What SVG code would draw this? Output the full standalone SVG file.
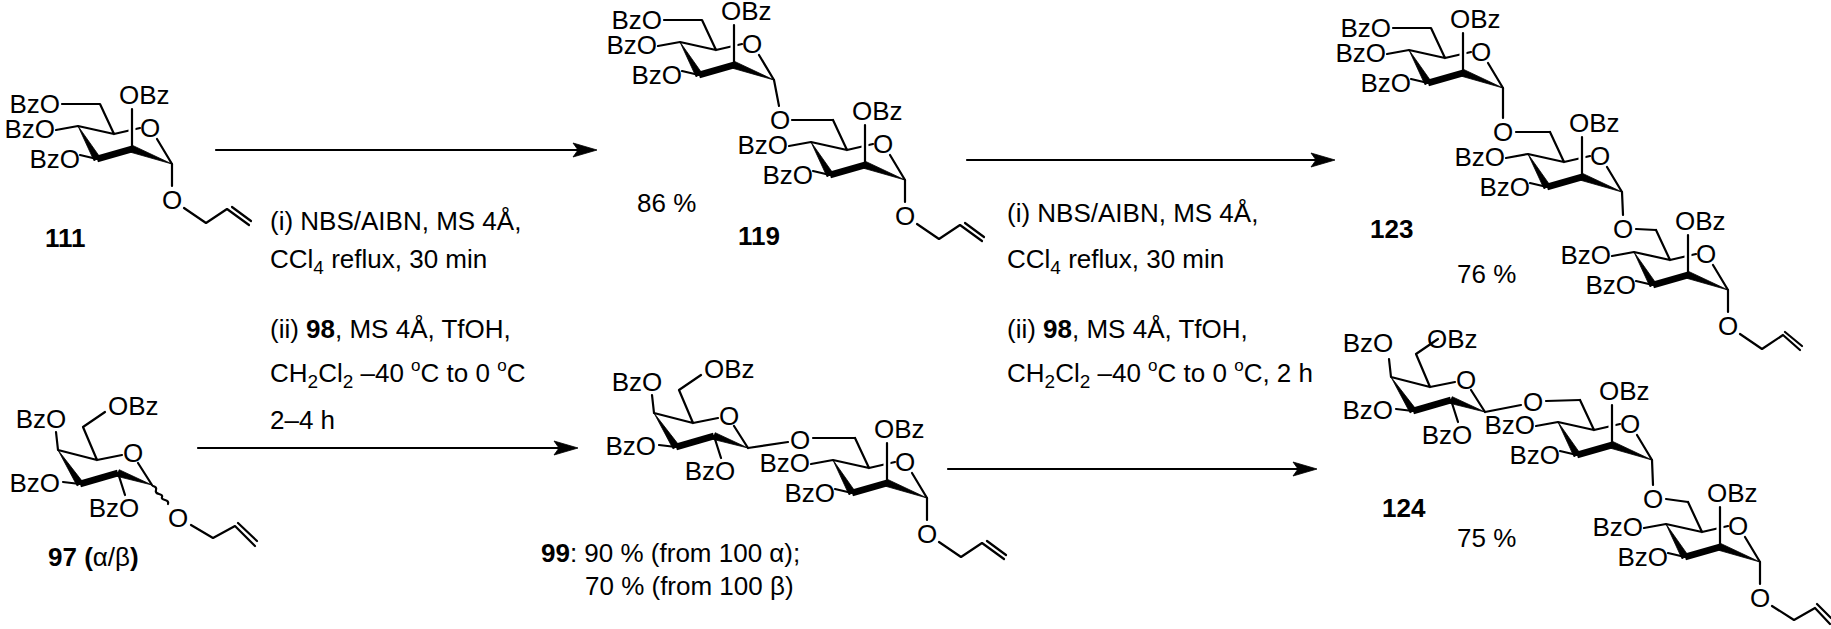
<svg xmlns="http://www.w3.org/2000/svg" width="1831" height="629" viewBox="0 0 1831 629">
<style>
.b{fill:none;stroke:#000;stroke-width:2.2;stroke-linecap:round;stroke-linejoin:round}
.h{fill:none;stroke:#fff;stroke-width:7}
.w{fill:#000;stroke:#000;stroke-width:0.8;stroke-linejoin:round}
.bb{fill:none;stroke:#000;stroke-width:7}
text{font-family:"Liberation Sans",Arial,sans-serif;font-size:26px;fill:#000}
.m{text-anchor:middle}
.e{text-anchor:end}
.lb{font-weight:bold}
</style>
<rect width="1831" height="629" fill="#fff"/>

<!-- 111 -->
<g id="c111">
 <g transform="translate(172,164)">
  <path class="b" d="M-58,-30 L-72,-60 L-110,-60 M-94,-38 L-58,-30 L-32,-36 M-15,-25 L0,0 M-94,-38 L-116,-34 M-75,-5 L-92,-9"/>
  <path class="h" d="M-40,-22 L-40,-50"/><path class="b" d="M-40,-15 L-40,-55"/>
  <path class="w" d="M-94,-38 L-72,-6.8 L-78,-3.2 Z"/><path class="bb" d="M-75,-5 L-40,-15"/><path class="w" d="M-41.2,-11.7 L-38.8,-18.3 L0,0 Z"/>
  <text x="-22" y="-27" class="m">O</text><text x="-53" y="-60">OBz</text><text x="-112" y="-51" class="e">BzO</text><text x="-117" y="-26" class="e">BzO</text><text x="-92" y="4" class="e">BzO</text>
  <path class="b" d="M0,0 L0,22 M12,44 L34,59 L55,45 L77,61 M60,43 L79,57"/><text x="0" y="45" class="m">O</text>
 </g>
 <text x="45" y="247" class="lb">111</text>
</g>

<!-- 97 -->
<g id="c97">
 <g transform="translate(152,485)">
  <path class="b" d="M-55,-25 L-69,-58 L-47,-73 M-94,-35 L-55,-25 L-30,-30 M-14,-22 L0,0 M-94,-35 L-96,-53 M-72,-1 L-89,-3 M-34,-12 L-27,10"/>
  <path class="w" d="M-94,-35 L-69.1,-2.9 L-74.9,0.9 Z"/><path class="bb" d="M-72,-1 L-34,-12"/><path class="w" d="M-35.2,-8.7 L-32.8,-15.3 L0,0 Z"/>
  <text x="-19" y="-23" class="m">O</text><text x="-44" y="-70">OBz</text><text x="-111" y="-57" class="m">BzO</text><text x="-92" y="7" class="e">BzO</text><text x="-38" y="32" class="m">BzO</text>
  <path class="b" d="M1,1 Q5,2 4,5 T7,9 T10,12 T13,15 T16,19"/>
  <text x="26" y="42" class="m">O</text>
  <path class="b" d="M39,40 L61,53 L83,41 L103,61 M86,38 L105,56"/>
 </g>
 <text x="48" y="566"><tspan class="lb">97 (</tspan>α/β<tspan class="lb">)</tspan></text>
</g>

<!-- 119 -->
<g id="c119">
 <g transform="translate(774,80)">
  <path class="b" d="M-58,-30 L-72,-60 L-110,-60 M-94,-38 L-58,-30 L-32,-36 M-15,-25 L0,0 M-94,-38 L-116,-34 M-75,-5 L-92,-9"/>
  <path class="h" d="M-40,-22 L-40,-50"/><path class="b" d="M-40,-15 L-40,-55"/>
  <path class="w" d="M-94,-38 L-72,-6.8 L-78,-3.2 Z"/><path class="bb" d="M-75,-5 L-40,-15"/><path class="w" d="M-41.2,-11.7 L-38.8,-18.3 L0,0 Z"/>
  <text x="-22" y="-27" class="m">O</text><text x="-53" y="-60">OBz</text><text x="-112" y="-51" class="e">BzO</text><text x="-117" y="-26" class="e">BzO</text><text x="-92" y="4" class="e">BzO</text>
 </g>
 <path class="b" d="M774,80 L779,106 M792,120 L833,120"/><text x="780" y="129" class="m">O</text>
 <g transform="translate(905,180)">
  <path class="b" d="M-58,-30 L-72,-60 M-94,-38 L-58,-30 L-32,-36 M-15,-25 L0,0 M-94,-38 L-116,-34 M-75,-5 L-92,-9"/>
  <path class="h" d="M-40,-22 L-40,-50"/><path class="b" d="M-40,-15 L-40,-55"/>
  <path class="w" d="M-94,-38 L-72,-6.8 L-78,-3.2 Z"/><path class="bb" d="M-75,-5 L-40,-15"/><path class="w" d="M-41.2,-11.7 L-38.8,-18.3 L0,0 Z"/>
  <text x="-22" y="-27" class="m">O</text><text x="-53" y="-60">OBz</text><text x="-117" y="-26" class="e">BzO</text><text x="-92" y="4" class="e">BzO</text>
  <path class="b" d="M0,0 L0,22 M12,44 L34,59 L55,45 L77,61 M60,43 L79,57"/><text x="0" y="45" class="m">O</text>
 </g>
 <text x="637" y="212">86 %</text>
 <text x="738" y="245" class="lb">119</text>
</g>

<!-- 99 -->
<g id="c99">
 <g transform="translate(748,448)">
  <path class="b" d="M-55,-25 L-69,-58 L-47,-73 M-94,-35 L-55,-25 L-30,-30 M-14,-22 L0,0 M-94,-35 L-96,-53 M-72,-1 L-89,-3 M-34,-12 L-27,10 M0,0 L40,-6"/>
  <path class="w" d="M-94,-35 L-69.1,-2.9 L-74.9,0.9 Z"/><path class="bb" d="M-72,-1 L-34,-12"/><path class="w" d="M-35.2,-8.7 L-32.8,-15.3 L0,0 Z"/>
  <text x="-19" y="-23" class="m">O</text><text x="-44" y="-70">OBz</text><text x="-111" y="-57" class="m">BzO</text><text x="-92" y="7" class="e">BzO</text><text x="-38" y="32" class="m">BzO</text>
 </g>
 <text x="800" y="449" class="m">O</text><path class="b" d="M813,438 L855,438"/>
 <g transform="translate(927,498)">
  <path class="b" d="M-58,-30 L-72,-60 M-94,-38 L-58,-30 L-32,-36 M-15,-25 L0,0 M-94,-38 L-116,-34 M-75,-5 L-92,-9"/>
  <path class="h" d="M-40,-22 L-40,-50"/><path class="b" d="M-40,-15 L-40,-55"/>
  <path class="w" d="M-94,-38 L-72,-6.8 L-78,-3.2 Z"/><path class="bb" d="M-75,-5 L-40,-15"/><path class="w" d="M-41.2,-11.7 L-38.8,-18.3 L0,0 Z"/>
  <text x="-22" y="-27" class="m">O</text><text x="-53" y="-60">OBz</text><text x="-117" y="-26" class="e">BzO</text><text x="-92" y="4" class="e">BzO</text>
  <path class="b" d="M0,0 L0,22 M12,44 L34,59 L55,45 L77,61 M60,43 L79,57"/><text x="0" y="45" class="m">O</text>
 </g>
 <text x="541" y="562"><tspan class="lb">99</tspan>: 90 % (from 100 α);</text>
 <text x="585" y="595">70 % (from 100 β)</text>
</g>

<!-- 123 -->
<g id="c123">
 <g transform="translate(1503,88)">
  <path class="b" d="M-58,-30 L-72,-60 L-110,-60 M-94,-38 L-58,-30 L-32,-36 M-15,-25 L0,0 M-94,-38 L-116,-34 M-75,-5 L-92,-9"/>
  <path class="h" d="M-40,-22 L-40,-50"/><path class="b" d="M-40,-15 L-40,-55"/>
  <path class="w" d="M-94,-38 L-72,-6.8 L-78,-3.2 Z"/><path class="bb" d="M-75,-5 L-40,-15"/><path class="w" d="M-41.2,-11.7 L-38.8,-18.3 L0,0 Z"/>
  <text x="-22" y="-27" class="m">O</text><text x="-53" y="-60">OBz</text><text x="-112" y="-51" class="e">BzO</text><text x="-117" y="-26" class="e">BzO</text><text x="-92" y="4" class="e">BzO</text>
 </g>
 <path class="b" d="M1503,88 L1503,118 M1516,132 L1550,132"/><text x="1503" y="141" class="m">O</text>
 <g transform="translate(1622,192)">
  <path class="b" d="M-58,-30 L-72,-60 M-94,-38 L-58,-30 L-32,-36 M-15,-25 L0,0 M-94,-38 L-116,-34 M-75,-5 L-92,-9"/>
  <path class="h" d="M-40,-22 L-40,-50"/><path class="b" d="M-40,-15 L-40,-55"/>
  <path class="w" d="M-94,-38 L-72,-6.8 L-78,-3.2 Z"/><path class="bb" d="M-75,-5 L-40,-15"/><path class="w" d="M-41.2,-11.7 L-38.8,-18.3 L0,0 Z"/>
  <text x="-22" y="-27" class="m">O</text><text x="-53" y="-60">OBz</text><text x="-117" y="-26" class="e">BzO</text><text x="-92" y="4" class="e">BzO</text>
 </g>
 <path class="b" d="M1622,192 L1623,215 M1636,229 L1656,230"/><text x="1623" y="238" class="m">O</text>
 <g transform="translate(1728,290)">
  <path class="b" d="M-58,-30 L-72,-60 M-94,-38 L-58,-30 L-32,-36 M-15,-25 L0,0 M-94,-38 L-116,-34 M-75,-5 L-92,-9"/>
  <path class="h" d="M-40,-22 L-40,-50"/><path class="b" d="M-40,-15 L-40,-55"/>
  <path class="w" d="M-94,-38 L-72,-6.8 L-78,-3.2 Z"/><path class="bb" d="M-75,-5 L-40,-15"/><path class="w" d="M-41.2,-11.7 L-38.8,-18.3 L0,0 Z"/>
  <text x="-22" y="-27" class="m">O</text><text x="-53" y="-60">OBz</text><text x="-117" y="-26" class="e">BzO</text><text x="-92" y="4" class="e">BzO</text>
  <path class="b" d="M0,0 L0,22 M12,44 L34,59 L55,45 L72,60 M57,42 L74,56"/><text x="0" y="45" class="m">O</text>
 </g>
 <text x="1370" y="238" class="lb">123</text>
 <text x="1457" y="283">76 %</text>
</g>

<!-- 124 -->
<g id="c124">
 <g transform="translate(1485,412)">
  <path class="b" d="M-55,-25 L-69,-58 L-47,-73 M-94,-35 L-55,-25 L-30,-30 M-14,-22 L0,0 M-94,-35 L-96,-53 M-72,-1 L-89,-3 M-34,-12 L-27,10 M0,0 L36,-7"/>
  <path class="w" d="M-94,-35 L-69.1,-2.9 L-74.9,0.9 Z"/><path class="bb" d="M-72,-1 L-34,-12"/><path class="w" d="M-35.2,-8.7 L-32.8,-15.3 L0,0 Z"/>
  <text x="-19" y="-23" class="m">O</text><text x="-58" y="-64">OBz</text><text x="-117" y="-60" class="m">BzO</text><text x="-92" y="7" class="e">BzO</text><text x="-38" y="32" class="m">BzO</text>
 </g>
 <text x="1533" y="411" class="m">O</text><path class="b" d="M1546,401 L1580,400"/>
 <g transform="translate(1652,460)">
  <path class="b" d="M-58,-30 L-72,-60 M-94,-38 L-58,-30 L-32,-36 M-15,-25 L0,0 M-94,-38 L-116,-34 M-75,-5 L-92,-9"/>
  <path class="h" d="M-40,-22 L-40,-50"/><path class="b" d="M-40,-15 L-40,-55"/>
  <path class="w" d="M-94,-38 L-72,-6.8 L-78,-3.2 Z"/><path class="bb" d="M-75,-5 L-40,-15"/><path class="w" d="M-41.2,-11.7 L-38.8,-18.3 L0,0 Z"/>
  <text x="-22" y="-27" class="m">O</text><text x="-53" y="-60">OBz</text><text x="-117" y="-26" class="e">BzO</text><text x="-92" y="4" class="e">BzO</text>
 </g>
 <path class="b" d="M1652,460 L1653,485 M1666,499 L1688,502"/><text x="1653" y="508" class="m">O</text>
 <g transform="translate(1760,562)">
  <path class="b" d="M-58,-30 L-72,-60 M-94,-38 L-58,-30 L-32,-36 M-15,-25 L0,0 M-94,-38 L-116,-34 M-75,-5 L-92,-9"/>
  <path class="h" d="M-40,-22 L-40,-50"/><path class="b" d="M-40,-15 L-40,-55"/>
  <path class="w" d="M-94,-38 L-72,-6.8 L-78,-3.2 Z"/><path class="bb" d="M-75,-5 L-40,-15"/><path class="w" d="M-41.2,-11.7 L-38.8,-18.3 L0,0 Z"/>
  <text x="-22" y="-27" class="m">O</text><text x="-53" y="-60">OBz</text><text x="-117" y="-26" class="e">BzO</text><text x="-92" y="4" class="e">BzO</text>
  <path class="b" d="M0,0 L0,22 M12,44 L34,58 L55,46 L70,62 M57,42 L71,56"/><text x="0" y="45" class="m">O</text>
 </g>
 <text x="1382" y="517" class="lb">124</text>
 <text x="1457" y="547">75 %</text>
</g>

<!-- reagents -->
<g id="reagents">
 <text x="270" y="230">(i) NBS/AIBN, MS 4Å,</text>
 <text x="270" y="268">CCl<tspan font-size="19" dy="6">4</tspan><tspan dy="-6"> reflux, 30 min</tspan></text>
 <text x="270" y="338">(ii) <tspan class="lb">98</tspan>, MS 4Å, TfOH,</text>
 <text x="270" y="382">CH<tspan font-size="19" dy="6">2</tspan><tspan dy="-6">Cl</tspan><tspan font-size="19" dy="6">2</tspan><tspan dy="-6"> –40 </tspan><tspan font-size="17" dy="-11">o</tspan><tspan dy="11">C to 0 </tspan><tspan font-size="17" dy="-11">o</tspan><tspan dy="11">C</tspan></text>
 <text x="270" y="429">2–4 h</text>
 <text x="1007" y="222">(i) NBS/AIBN, MS 4Å,</text>
 <text x="1007" y="268">CCl<tspan font-size="19" dy="6">4</tspan><tspan dy="-6"> reflux, 30 min</tspan></text>
 <text x="1007" y="338">(ii) <tspan class="lb">98</tspan>, MS 4Å, TfOH,</text>
 <text x="1007" y="382">CH<tspan font-size="19" dy="6">2</tspan><tspan dy="-6">Cl</tspan><tspan font-size="19" dy="6">2</tspan><tspan dy="-6"> –40 </tspan><tspan font-size="17" dy="-11">o</tspan><tspan dy="11">C to 0 </tspan><tspan font-size="17" dy="-11">o</tspan><tspan dy="11">C, 2 h</tspan></text>
</g>

<!-- arrows -->
<g id="connectors">
 <path class="b" d="M216,150 L580,150 M967,160 L1318,160 M198,448 L562,448 M948,469 L1300,469" stroke-width="2"/>
 <path class="w" d="M597,150 L573,143 L578,150 L573,157 Z M1335,160 L1311,153 L1316,160 L1311,167 Z M578,448 L554,441 L559,448 L554,455 Z M1317,469 L1293,462 L1298,469 L1293,476 Z"/>
</g>
</svg>
